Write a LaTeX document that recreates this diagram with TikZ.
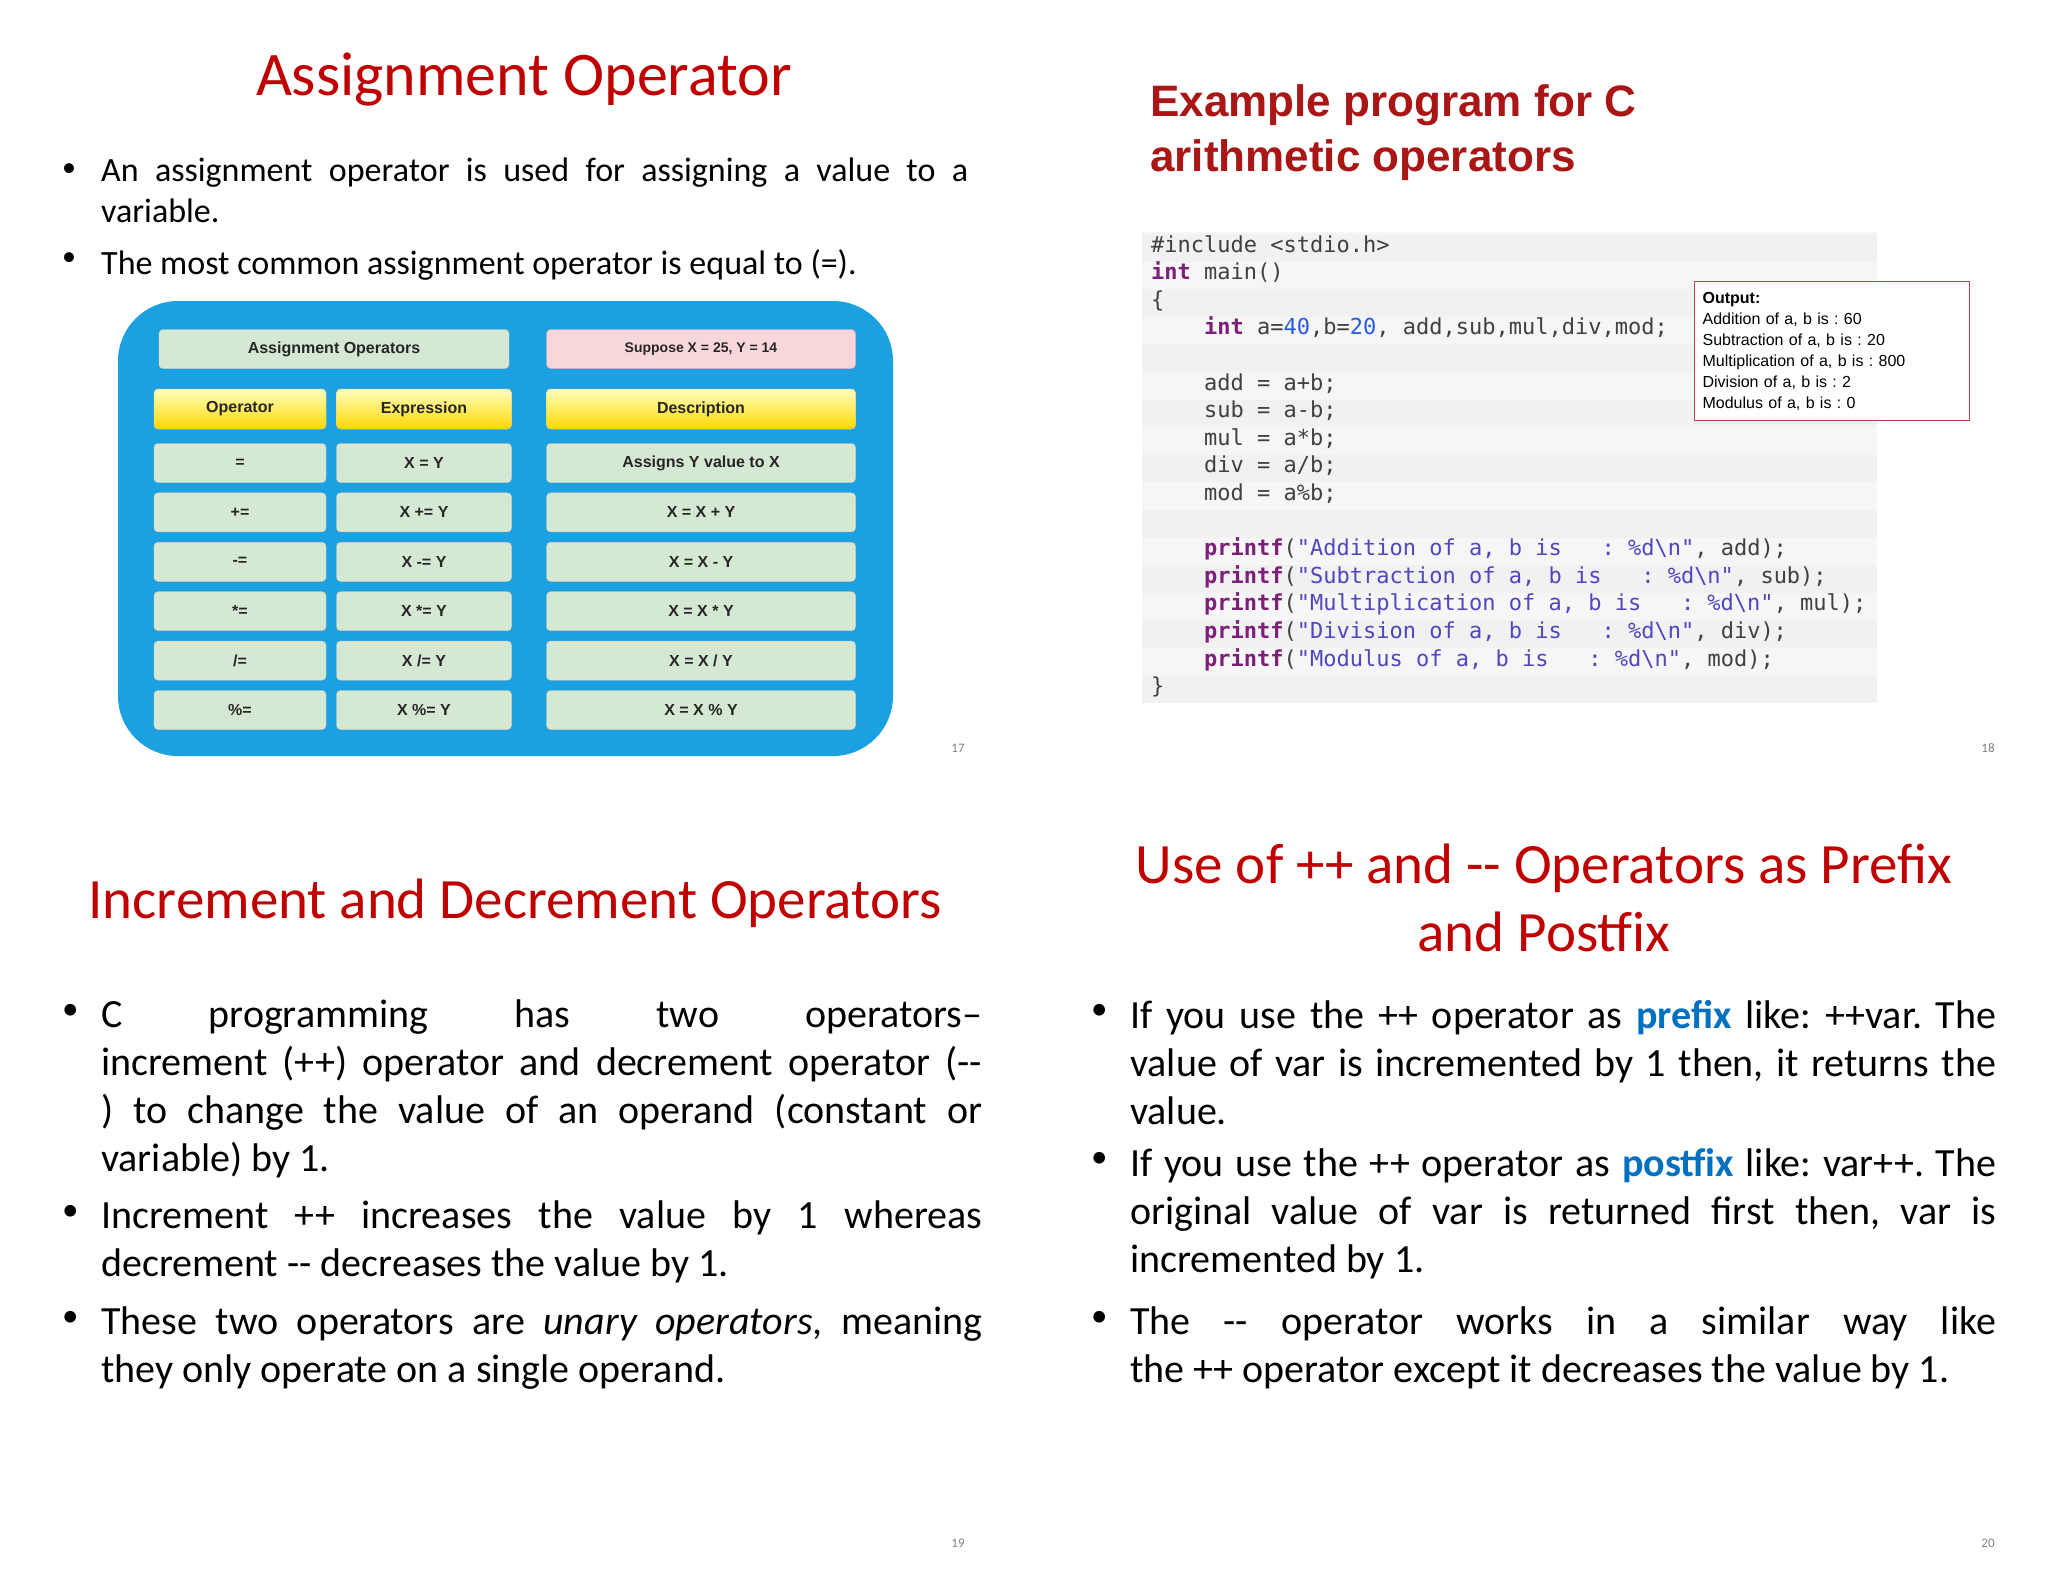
\documentclass[tikz,border=0pt]{standalone}
\usepackage{fontspec}
\setmainfont{Carlito}
\newfontfamily\arialfont{Liberation Sans}
\setmonofont{DejaVu Sans Mono}
\usetikzlibrary{positioning}
\frenchspacing
\definecolor{slidered}{HTML}{C00000}
\definecolor{exred}{RGB}{170,22,22}
\definecolor{tblue}{HTML}{1BA1E2}
\definecolor{cellgreen}{HTML}{D5E8D4}
\definecolor{cellpink}{HTML}{F8D7DA}
\definecolor{kwpurple}{RGB}{125,30,120}
\definecolor{strblue}{RGB}{80,70,190}
\definecolor{numblue}{RGB}{40,90,230}
\definecolor{linkblue}{HTML}{0070C0}
\newcommand{\kw}[1]{\textcolor{kwpurple}{\textbf{#1}}}
\newcommand{\cstr}[1]{\textcolor{strblue}{#1}}
\newcommand{\cnum}[1]{\textcolor{numblue}{#1}}
\tikzset{
  title/.style={text=slidered, font=\fontsize{57}{68}\selectfont, inner sep=0pt},
  smallbody/.style={font=\fontsize{34}{41}\selectfont, text width=867pt, align=justify, anchor=north west, inner sep=0pt},
  bigbody/.style={font=\fontsize{40}{48}\selectfont, align=justify, anchor=north west, inner sep=0pt},
  smalldot/.style={anchor=north west, inner sep=0pt, yshift=-3pt, font=\fontsize{28}{41}\selectfont},
  bigdot/.style={anchor=north west, inner sep=0pt, yshift=-4pt, font=\fontsize{33}{48}\selectfont},
  cell/.style={draw=brown!40, fill=cellgreen, rounded corners=4pt, font=\arialfont\bfseries\fontsize{16}{18}\selectfont, text=black!85},
  head/.style={cell, draw=orange!50, top color=yellow!25, bottom color=yellow!70!orange},
  codeline/.style={anchor=base west, inner sep=0pt, font=\ttfamily\fontsize{22}{26}\selectfont, text=black!75},
  pagenum/.style={text=gray, font=\fontsize{13}{15}\selectfont, inner sep=0pt}
}
\begin{document}
\begin{tikzpicture}[x=1pt,y=-1pt]
\useasboundingbox[fill=white] (0,0) rectangle (2048,1582);

% slide 17
\node[title, font=\fontsize{62}{72}\selectfont] (t1) at (524,79) {Assignment Operator};
\node[smalldot] (d11) at (62,160) {•};
\node[smallbody] (b11) at (101,158) {An assignment operator is used for assigning a value to a\linebreak variable.};
\node[smalldot] (d12) at (62,249) {•};
\node[smallbody] (b12) at (101,249) {The most common assignment operator is equal to (=).};

\fill[tblue, rounded corners=60pt] (118,301) rectangle (893,756);
\node[cell, minimum width=350pt, minimum height=39pt] (hdr) at (334,349) {Assignment Operators};
\node[cell, fill=cellpink, draw=red!40, minimum width=309pt, minimum height=39pt, font=\arialfont\bfseries\fontsize{14}{16}\selectfont] (sup) at (701,349) {Suppose X = 25, Y = 14};
\node[head, minimum width=172pt, minimum height=40pt] (hop) at (240,409) {Operator};
\node[head, minimum width=175pt, minimum height=40pt] (hex) at (424,409) {Expression};
\node[head, minimum width=309pt, minimum height=40pt] (hde) at (701,409) {Description};
\foreach \op/\ex/\de [count=\i] in {{=}/{X = Y}/{Assigns Y value to X}, {+=}/{X += Y}/{X = X + Y}, {-=}/{X -= Y}/{X = X - Y}, {*=}/{X *= Y}/{X = X * Y}, {{/=}}/{{X /= Y}}/{{X = X / Y}}, {\%=}/{X \%= Y}/{X = X \% Y}}{
  \node[cell, minimum width=172pt, minimum height=39pt] (op\i) at (240,{463+49.4*(\i-1)}) {\op};
  \node[cell, minimum width=175pt, minimum height=39pt] (ex\i) at (424,{463+49.4*(\i-1)}) {\ex};
  \node[cell, minimum width=309pt, minimum height=39pt] (de\i) at (701,{463+49.4*(\i-1)}) {\de};
}
\node[pagenum] (n17) at (958,748) {17};

% slide 18
\node[anchor=base west, inner sep=0pt, text=exred, font=\arialfont\bfseries\fontsize{44}{55}\selectfont, align=left] (t2) at (1150,171) {Example program for C\\arithmetic operators};
\fill[gray!7] (1142,232) rectangle (1877,702);
\foreach \k in {0,2,...,16}
  \fill[gray!11] (1142,{234+27.6*\k}) rectangle (1877,{234+27.6*\k+27.6});
\node[codeline] (c1) at (1151,252) {\#include <stdio.h>};
\node[codeline] (c2) at (1151,279.6) {\kw{int} main()};
\node[codeline] (c3) at (1151,307.2) {\{};
\node[codeline] (c4) at (1204,334.8) {\kw{int} a=\cnum{40},b=\cnum{20}, add,sub,mul,div,mod;};
\node[codeline] (c5) at (1204,390) {add = a+b;};
\node[codeline] (c6) at (1204,417.6) {sub = a-b;};
\node[codeline] (c7) at (1204,445.2) {mul = a*b;};
\node[codeline] (c8) at (1204,472.8) {div = a/b;};
\node[codeline] (c9) at (1204,500.4) {mod = a\%b;};
\node[codeline] (c10) at (1204,555.6) {\kw{printf}(\cstr{"Addition of a, b is~~~: \%d\textbackslash n"}, add);};
\node[codeline] (c11) at (1204,583.2) {\kw{printf}(\cstr{"Subtraction of a, b is~~~: \%d\textbackslash n"}, sub);};
\node[codeline] (c12) at (1204,610.8) {\kw{printf}(\cstr{"Multiplication of a, b is~~~: \%d\textbackslash n"}, mul);};
\node[codeline] (c13) at (1204,638.4) {\kw{printf}(\cstr{"Division of a, b is~~~: \%d\textbackslash n"}, div);};
\node[codeline] (c14) at (1204,666) {\kw{printf}(\cstr{"Modulus of a, b is~~~: \%d\textbackslash n"}, mod);};
\node[codeline] (c15) at (1151,693.6) {\}};
\node[draw=exred!80, fill=white, line width=1.2pt, anchor=north west, minimum width=275pt, minimum height=139pt, text width=259pt, align=left, inner sep=8pt, font=\arialfont\fontsize{16}{21}\selectfont] (out) at (1694,281)
  {\textbf{Output:}\\Addition of a, b is : 60\\Subtraction of a, b is : 20\\Multiplication of a, b is : 800\\Division of a, b is : 2\\Modulus of a, b is : 0};
\node[pagenum] (n18) at (1988,748) {18};

% slide 19
\node[title] (t3) at (515,903) {Increment and Decrement Operators};
\node[bigdot] (d31) at (62,1000) {•};
\node[bigbody, text width=881pt] (b31) at (101,1000) {C programming has two operators–\linebreak increment (++) operator and decrement operator (-{}-\linebreak ) to change the value of an operand (constant or\linebreak variable) by 1.};
\node[bigdot] (d32) at (62,1201) {•};
\node[bigbody, text width=881pt] (b32) at (101,1201) {Increment ++ increases the value by 1 whereas\linebreak decrement -{}- decreases the value by 1.};
\node[bigdot] (d33) at (62,1307) {•};
\node[bigbody, text width=881pt] (b33) at (101,1307) {These two operators are \textit{unary operators}, meaning\linebreak they only operate on a single operand.};
\node[pagenum] (n19) at (958,1543) {19};

% slide 20
\node[title, align=center] (t4) at (1544,898) {Use of ++ and -{}- Operators as Prefix\\and Postfix};
\node[bigdot] (d41) at (1091,1000) {•};
\node[bigbody, text width=866pt] (b41) at (1130,1000) {If you use the ++ operator as \textcolor{linkblue}{\textbf{prefix}} like: ++var. The\linebreak value of var is incremented by 1 then, it returns the\linebreak value.};
\node[bigdot] (d42) at (1091,1148) {•};
\node[bigbody, text width=866pt] (b42) at (1130,1148) {If you use the ++ operator as \textcolor{linkblue}{\textbf{postfix}} like: var++. The\linebreak original value of var is returned first then, var is\linebreak incremented by 1.};
\node[bigdot] (d43) at (1091,1307) {•};
\node[bigbody, text width=866pt] (b43) at (1130,1307) {The -{}- operator works in a similar way like\linebreak the ++ operator except it decreases the value by 1.};
\node[pagenum] (n20) at (1988,1543) {20};
\end{tikzpicture}
\end{document}
